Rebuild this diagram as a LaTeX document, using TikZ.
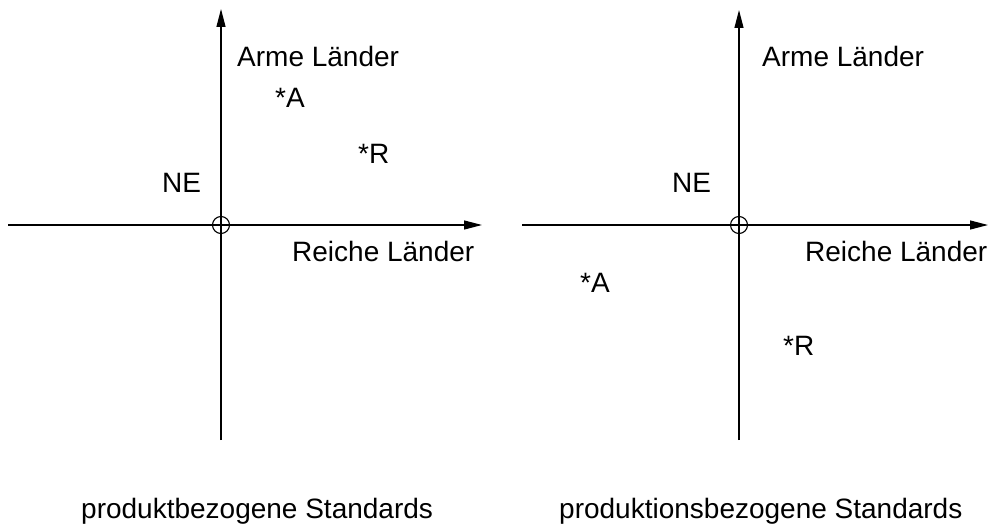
\documentclass[tikz,border=0pt]{standalone}
\usepackage{fontspec}
\setmainfont{Liberation Sans}
\usetikzlibrary{arrows.meta}
\begin{document}
\begin{tikzpicture}[x=1pt,y=-1pt,
  axis/.style={line width=1.2pt,-{Triangle[length=18pt,width=9pt]}},
  lbl/.style={inner sep=0pt,anchor=base west,font=\fontsize{28}{30}\selectfont},
  captext/.style={lbl},
  origin/.style={circle,draw,line width=1.1pt,minimum size=17pt,inner sep=0pt}]
\useasboundingbox (0,0) rectangle (995,524);
% left diagram
\coordinate (L0) at (221,225);
\coordinate (Lb) at (221,440);
\coordinate (Lt) at (221,9);
\coordinate (Ll) at (8,225);
\coordinate (Lr) at (482,225);
\draw[axis] (Lb) -- (Lt);
\draw[axis] (Ll) -- (Lr);
\node[origin] (Lo) at (L0) {};
\node[lbl] (LArm) at (237,67) {Arme Länder};
\node[lbl] (LA) at (275,107) {*A};
\node[lbl] (LR) at (358,163) {*R};
\node[lbl] (LNE) at (162,192) {NE};
\node[lbl] (LRe) at (292,261) {Reiche Länder};
\node[captext] (Lcap) at (81,518) {produktbezogene Standards};
% right diagram
\coordinate (R0) at (739,225);
\coordinate (Rb) at (739,440);
\coordinate (Rt) at (739,10);
\coordinate (Rl) at (522,225);
\coordinate (Rr) at (988,225);
\draw[axis] (Rb) -- (Rt);
\draw[axis] (Rl) -- (Rr);
\node[origin] (Ro) at (R0) {};
\node[lbl] (RArm) at (762,67) {Arme Länder};
\node[lbl] (RA) at (580,292) {*A};
\node[lbl] (RR) at (783,355) {*R};
\node[lbl] (RNE) at (672,192) {NE};
\node[lbl] (RRe) at (805,261) {Reiche Länder};
\node[captext] (Rcap) at (559,518) {produktionsbezogene Standards};
\end{tikzpicture}
\end{document}
